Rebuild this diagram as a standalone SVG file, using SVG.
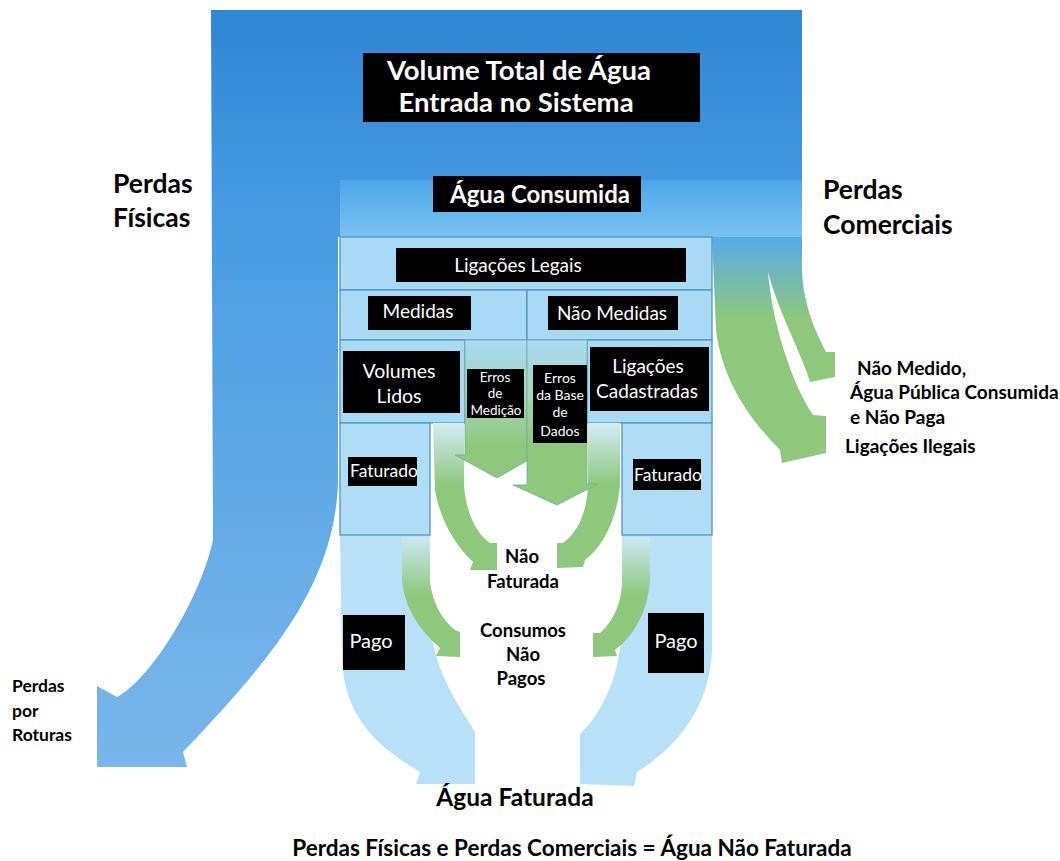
<svg xmlns="http://www.w3.org/2000/svg" width="1060" height="861" viewBox="0 0 1060 861">
<defs>
<linearGradient id="gMain" gradientUnits="userSpaceOnUse" x1="0" y1="10" x2="0" y2="770">
<stop offset="0" stop-color="#2f86d4"/><stop offset="0.3" stop-color="#4a9de2"/><stop offset="1" stop-color="#7ab7ea"/>
</linearGradient>
<linearGradient id="gCons" gradientUnits="userSpaceOnUse" x1="0" y1="180" x2="0" y2="237">
<stop offset="0" stop-color="#4ea6e8"/><stop offset="1" stop-color="#78c2f0"/>
</linearGradient>
<linearGradient id="gCom" gradientUnits="userSpaceOnUse" x1="0" y1="237" x2="0" y2="345">
<stop offset="0" stop-color="#56aae8"/><stop offset="0.75" stop-color="#8ec87c"/><stop offset="1" stop-color="#8ec87c"/>
</linearGradient>
<linearGradient id="gErr" gradientUnits="userSpaceOnUse" x1="0" y1="340" x2="0" y2="445">
<stop offset="0" stop-color="#a9daf5"/><stop offset="0.55" stop-color="#a6d5b8"/><stop offset="1" stop-color="#8ec87c"/>
</linearGradient>
<linearGradient id="gC1" gradientUnits="userSpaceOnUse" x1="0" y1="423" x2="0" y2="485">
<stop offset="0" stop-color="#d3ecf5"/><stop offset="1" stop-color="#8ec87c"/>
</linearGradient>
<linearGradient id="gC2" gradientUnits="userSpaceOnUse" x1="0" y1="537" x2="0" y2="595">
<stop offset="0" stop-color="#cbe8f4"/><stop offset="1" stop-color="#8ec87c"/>
</linearGradient>
</defs>
<style>
.cell{fill:#a9daf5;stroke:#4f96c2;stroke-width:1.3}
.fat{fill:#b0ddf6;stroke:#4f96c2;stroke-width:1.3}
.pago{fill:#b8e1f7}
.box{fill:#000}
.wt{fill:#fff;font-family:Lato,"Liberation Sans",sans-serif;text-anchor:middle}
.wl{fill:#fff;font-family:Lato,"Liberation Sans",sans-serif}
.wb{font-weight:bold}
.bt{fill:#000;font-family:Lato,"Liberation Sans",sans-serif;font-weight:bold}
.mid{text-anchor:middle}
</style>
<rect width="1060" height="861" fill="#fff"/>

<g id="perdas-fisicas-flow">
<path d="M211,10 H802 V237 H338 V480 C336,590 260,670 183,752 L187,767 H97 V686 L117,697 C150,680 200,600 213,540 Z" fill="url(#gMain)"/>
</g>
<rect x="340" y="180" width="462" height="57" fill="url(#gCons)"/>

<g id="perdas-comerciais-flow">
<path d="M712,237 H802 V255 C800,300 815,330 826,352 L835,352 L835,377 L810,382 L807,373 C795,340 778,310 768,272 C772,320 790,380 813,415 L826,416 L826,453 L782,463 L780,450 C750,420 722,380 716,330 Z" fill="url(#gCom)"/>
</g>

<g id="pago-flows">
<path class="pago" d="M340,535 H430 V620 C432,665 455,700 475,732 V784 H416 L420,772 C380,748 345,720 342,660 Z"/>
<path class="pago" d="M622,535 H712 V650 C710,705 680,745 637,772 L634,786 L580,784 L580,734 C605,710 622,670 622,620 Z"/>
</g>

<g id="cells">
<rect class="cell" x="340" y="237" width="372" height="53"/>
<rect class="cell" x="340" y="290" width="187" height="50"/>
<rect class="cell" x="527" y="290" width="185" height="50"/>
<rect class="cell" x="340" y="340" width="125" height="83"/>
<rect class="cell" x="587" y="340" width="125" height="83"/>
<rect class="fat" x="340" y="423" width="90" height="112"/>
<rect class="fat" x="622" y="423" width="90" height="112"/>
</g>

<g id="connectors">
<path d="M433,423 H464 V485 C466,515 478,535 490,543 L497,543 V570 H470 L473,562 C455,545 440,520 435,490 Z" fill="url(#gC1)"/>
<path d="M588,423 H620 V485 C617,520 602,548 585,560 L583,567 L557,568 V543 L563,543 C578,532 587,512 588,485 Z" fill="url(#gC1)"/>
<path d="M402,537 H430 V580 C432,605 445,622 455,630 L460,632 V657 L436,656 L440,648 C420,630 405,610 402,580 Z" fill="url(#gC2)"/>
<path d="M622,537 H650 V580 C648,610 635,635 615,650 L617,656 L593,657 V633 L600,633 C615,620 622,600 622,580 Z" fill="url(#gC2)"/>
<path d="M465,340 H527 V455 H537 L497,478 L455,455 H465 Z" fill="url(#gErr)" stroke="#6fae9a" stroke-width="0.8"/>
<path d="M527,340 H587 V484 H598 L557,505 L513,485 H527 Z" fill="url(#gErr)" stroke="#6fae9a" stroke-width="0.8"/>
</g>

<g id="node-volume-total">
<rect class="box" x="363" y="53" width="337" height="69"/>
<text class="wt wb" x="519" y="80" font-size="27.5">Volume Total de Água</text>
<text class="wt wb" x="516" y="112" font-size="27.5">Entrada no Sistema</text>
</g>
<g id="node-agua-consumida">
<rect class="box" x="433" y="176" width="208" height="36"/>
<text class="wt wb" x="540" y="203" font-size="24">Água Consumida</text>
</g>
<g id="node-ligacoes-legais">
<rect class="box" x="396" y="248" width="290" height="34"/>
<text class="wt" x="518" y="272" font-size="19">Ligações Legais</text>
</g>
<g id="node-medidas">
<rect class="box" x="368" y="296" width="103" height="34"/>
<text class="wt" x="418" y="318" font-size="19">Medidas</text>
</g>
<g id="node-nao-medidas">
<rect class="box" x="548" y="296" width="130" height="34"/>
<text class="wt" x="612" y="320" font-size="19">Não Medidas</text>
</g>
<g id="node-volumes-lidos">
<rect class="box" x="343" y="351" width="117" height="62"/>
<text class="wt" x="399" y="378" font-size="19.5">Volumes</text>
<text class="wt" x="399" y="403" font-size="19.5">Lidos</text>
</g>
<g id="node-erros-medicao">
<rect class="box" x="467" y="369" width="57" height="49"/>
<text class="wt" x="495" y="382" font-size="13.5">Erros</text>
<text class="wt" x="495" y="398" font-size="13.5">de</text>
<text class="wt" x="496" y="415" font-size="13.5">Medição</text>
</g>
<g id="node-erros-base">
<rect class="box" x="533" y="365" width="54" height="78"/>
<text class="wt" x="560" y="383" font-size="14">Erros</text>
<text class="wt" x="560" y="400" font-size="14">da Base</text>
<text class="wt" x="560" y="417" font-size="14">de</text>
<text class="wt" x="560" y="436" font-size="14">Dados</text>
</g>
<g id="node-ligacoes-cadastradas">
<rect class="box" x="590" y="347" width="119" height="64"/>
<text class="wt" x="648" y="373" font-size="19">Ligações</text>
<text class="wt" x="647" y="398" font-size="19">Cadastradas</text>
</g>
<g id="node-faturado-1">
<rect class="box" x="348" y="457" width="69" height="29"/>
<text class="wl" x="350" y="477" font-size="17.5">Faturado</text>
</g>
<g id="node-faturado-2">
<rect class="box" x="633" y="459" width="68" height="31"/>
<text class="wl" x="634" y="481" font-size="17.5">Faturado</text>
</g>
<g id="node-pago-1">
<rect class="box" x="343" y="615" width="62" height="55"/>
<text class="wt" x="371" y="648" font-size="20">Pago</text>
</g>
<g id="node-pago-2">
<rect class="box" x="648" y="613" width="56" height="60"/>
<text class="wt" x="676" y="648" font-size="20">Pago</text>
</g>

<g id="label-perdas-fisicas">
<text class="bt" x="113" y="193" font-size="26.5">Perdas</text>
<text class="bt" x="113" y="227" font-size="26.5">Físicas</text>
</g>
<g id="label-perdas-comerciais">
<text class="bt" x="823" y="199" font-size="26.5">Perdas</text>
<text class="bt" x="823" y="234" font-size="26.5">Comerciais</text>
</g>
<g id="label-nao-medido">
<text class="bt" x="857" y="375" font-size="19">Não Medido,</text>
<text class="bt" x="850" y="399" font-size="19">Água Pública Consumida</text>
<text class="bt" x="850" y="424" font-size="19">e Não Paga</text>
</g>
<g id="label-ligacoes-ilegais">
<text class="bt" x="845" y="453" font-size="19">Ligações Ilegais</text>
</g>
<g id="label-perdas-roturas">
<text class="bt" x="12" y="692" font-size="17.5">Perdas</text>
<text class="bt" x="12" y="717" font-size="17.5">por</text>
<text class="bt" x="12" y="741" font-size="17.5">Roturas</text>
</g>
<g id="label-nao-faturada">
<text class="bt mid" x="522" y="563" font-size="18.5">Não</text>
<text class="bt mid" x="523" y="588" font-size="18.5">Faturada</text>
</g>
<g id="label-consumos">
<text class="bt mid" x="523" y="637" font-size="18.5">Consumos</text>
<text class="bt mid" x="523" y="661" font-size="18.5">Não</text>
<text class="bt mid" x="521" y="685" font-size="18.5">Pagos</text>
</g>
<g id="label-agua-faturada">
<text class="bt mid" x="515" y="806" font-size="24.5">Água Faturada</text>
</g>
<g id="label-equacao">
<text class="bt mid" x="572" y="856" font-size="22.5">Perdas Físicas e Perdas Comerciais = Água Não Faturada</text>
</g>
</svg>
